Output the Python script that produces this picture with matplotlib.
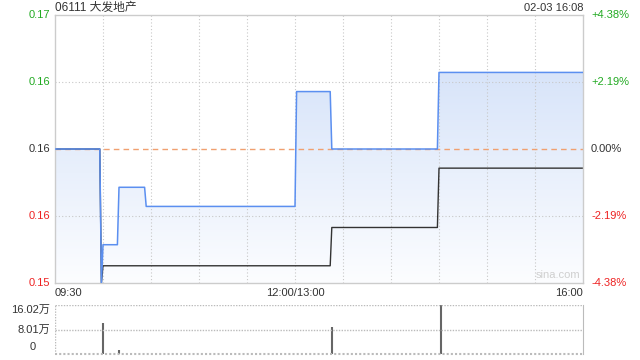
import matplotlib
matplotlib.use('Agg')
import matplotlib.pyplot as plt
import numpy as np

plt.rcParams['font.family'] = ['Liberation Sans', 'Noto Sans CJK SC', 'DejaVu Sans']

# minutes since 09:30 (lunch break removed, 330 trading minutes)
price_t = [0, 28, 29, 30, 39, 40, 56, 57, 150, 151, 172, 173, 239, 240, 330]
price = [0.160, 0.160, 0.153, 0.155, 0.155, 0.158, 0.158, 0.157, 0.157, 0.163,
         0.163, 0.160, 0.160, 0.164, 0.164]
avg_t = [0, 28, 29, 30, 172, 173, 239, 240, 330]
avg = [0.160, 0.160, 0.153, 0.1539, 0.1539, 0.1559, 0.1559, 0.1590, 0.1590]

vol_t = [30, 40, 173, 241]
vol = [10.1, 1.3, 8.9, 16.02]   # 万

prev_close = 0.160
y_ticks = [0.167, 0.1635, 0.160, 0.1565, 0.153]
y_labels = ['0.17', '0.16', '0.16', '0.16', '0.15']
pct_labels = ['+4.38%', '+2.19%', '0.00%', '-2.19%', '-4.38%']
tick_colors = ['#22aa22', '#22aa22', '#333333', '#ee2222', '#ee2222']
vol_ticks = [16.02, 8.01, 0]
vol_labels = ['16.02万', '8.01万', '0']

W, H = 640, 360
fig = plt.figure(figsize=(6.4, 3.6), dpi=100)
ax = fig.add_axes([55 / W, 1 - 283 / H, 528 / W, 268 / H])
axv = fig.add_axes([55 / W, 1 - 354 / H, 528 / W, 49 / H])

ymin, ymax = y_ticks[-1], y_ticks[0]
ax.set_xlim(0, 330)
ax.set_ylim(ymin, ymax)

# gradient fill under price line
poly = ax.fill_between(price_t, price, ymin, color='none', lw=0)
grad = np.linspace(0, 1, 256).reshape(-1, 1)
top_c = np.array([214, 227, 249]) / 255
bot_c = np.array([252, 253, 255]) / 255
img = top_c * grad[..., None] + bot_c * (1 - grad[..., None])
im = ax.imshow(img, extent=[0, 330, ymin, 0.1645], origin='lower', aspect='auto', zorder=1)
path = poly.get_paths()[0]
im.set_clip_path(path, transform=ax.transData)

for t in range(30, 330, 30):
    ax.axvline(t, color='#c8c8c8', lw=0.8, ls=(0, (1, 2)), zorder=1.5)
for y in [0.1635, 0.1565]:
    ax.axhline(y, color='#c8c8c8', lw=0.8, ls=(0, (1, 2)), zorder=1.5)
ax.axhline(prev_close, color='#f0a070', lw=1.0, ls=(0, (4, 3)), zorder=1.6)

ax.plot(price_t, price, color='#5b8ff0', lw=1.1, zorder=3)
ax.plot(avg_t, avg, color='#333333', lw=1.0, zorder=2.5)

ax.set_xticks([])
ax.set_yticks([])
for s in ax.spines.values():
    s.set_color('#cccccc')
    s.set_linewidth(1)

for y, lab, c in zip(y_ticks, y_labels, tick_colors):
    ax.text(-3, y, lab, ha='right', va='center', fontsize=8, color=c, clip_on=False)
for y, lab, c in zip(y_ticks, pct_labels, tick_colors):
    ax.text(335, y, lab, ha='left', va='center', fontsize=8, color=c, clip_on=False)

ax.text(0, -0.02, '09:30', transform=ax.transAxes, ha='left', va='top', fontsize=8, color='#333333')
ax.text(150 / 330, -0.02, '12:00/13:00', transform=ax.transAxes, ha='center', va='top', fontsize=8, color='#333333')
ax.text(1, -0.02, '16:00', transform=ax.transAxes, ha='right', va='top', fontsize=8, color='#333333')
ax.text(0.995, 0.01, 'sina.com', transform=ax.transAxes, ha='right', va='bottom', fontsize=8, color='#cfcfcf')

fig.text(55 / W, 1 - 8 / H, '06111 大发地产', ha='left', va='center', fontsize=8.5, color='#333333')
fig.text(583 / W, 1 - 8 / H, '02-03 16:08', ha='right', va='center', fontsize=8, color='#333333')

# volume panel
axv.set_xlim(0, 330)
axv.set_ylim(0, 16.02)
axv.vlines(vol_t, 0, vol, color='#666666', lw=1.5)
for y in [16.02, 8.01]:
    axv.axhline(y, color='#bbbbbb', lw=1, ls=(0, (1, 1)))
axv.axhline(0, color='#bbbbbb', lw=1.5, ls=(0, (1, 1)), clip_on=False)
axv.axvline(0, color='#bbbbbb', lw=1, ls=(0, (1, 1)))
for k in ['top', 'bottom', 'left']:
    axv.spines[k].set_visible(False)
axv.spines['right'].set_color('#bbbbbb')
axv.set_xticks([])
axv.set_yticks([])
axv.text(-3, 16.02, vol_labels[0], ha='right', va='top', fontsize=8, color='#333333')
axv.text(-3, 8.01, vol_labels[1], ha='right', va='center', fontsize=8, color='#333333')
axv.text(-12, 0.6, vol_labels[2], ha='right', va='bottom', fontsize=8, color='#333333')

fig.savefig('out.png', dpi=100)
